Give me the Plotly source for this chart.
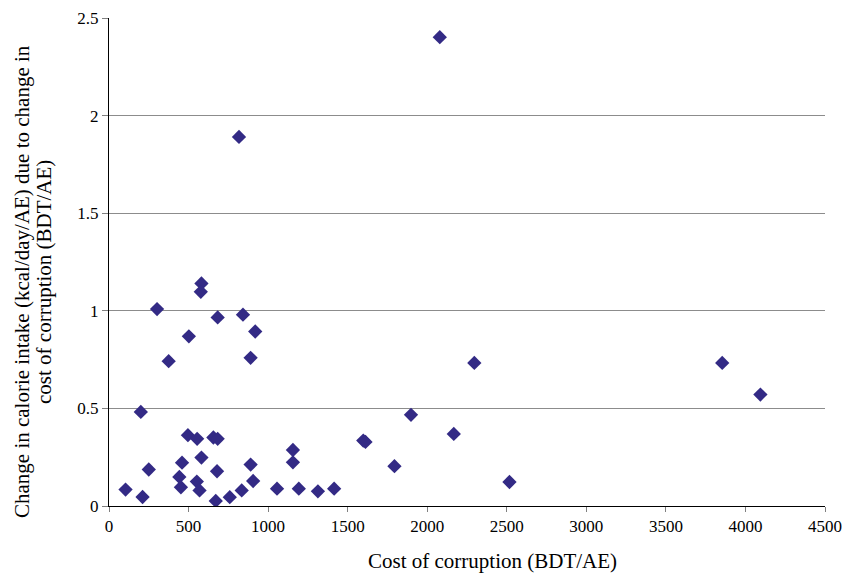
import plotly.graph_objects as go

cost = [104, 211, 250, 200, 302, 375, 502, 581, 577, 683, 842, 919, 890,
        496, 554, 656, 683, 459, 581, 442, 452, 552, 569, 679, 671, 759, 834,
        890, 906, 1056, 1156, 1156, 1193, 1313, 1415, 1598, 1612, 1794, 1898,
        2167, 2517, 817, 2079, 2296, 3854, 4094]
calorie = [0.084, 0.046, 0.187, 0.482, 1.009, 0.742, 0.869, 1.140, 1.097, 0.966,
           0.980, 0.894, 0.759, 0.363, 0.344, 0.351, 0.344, 0.222, 0.248, 0.149,
           0.096, 0.125, 0.080, 0.178, 0.026, 0.045, 0.080, 0.212, 0.128, 0.089,
           0.287, 0.224, 0.089, 0.075, 0.089, 0.335, 0.328, 0.204, 0.467, 0.369,
           0.123, 1.891, 2.402, 0.733, 0.733, 0.571]

x_ticks = [0, 500, 1000, 1500, 2000, 2500, 3000, 3500, 4000, 4500]
y_ticks = [0, 0.5, 1, 1.5, 2, 2.5]
y_title_lines = ["Change in calorie intake (kcal/day/AE) due to change in",
                 "cost of corruption (BDT/AE)"]
x_title = "Cost of corruption (BDT/AE)"

fig = go.Figure(go.Scatter(
    x=cost, y=calorie, mode="markers",
    marker=dict(symbol="diamond", size=11, color="#332a85"),
    showlegend=False,
))

font = "Liberation Serif, Times New Roman, serif"
fig.update_layout(
    width=856, height=575,
    margin=dict(l=101, r=39, t=10, b=77),
    paper_bgcolor="white", plot_bgcolor="white",
    font=dict(family=font, size=17, color="black"),
)
fig.update_xaxes(
    range=[0, 4500], tickvals=x_ticks, ticktext=[str(v) for v in x_ticks],
    showgrid=False, zeroline=False, showline=True, linecolor="black", linewidth=1,
    ticks="outside", ticklen=5, tickcolor="#808080", automargin=False,
    tickfont=dict(size=17),
)
fig.update_yaxes(
    range=[0, 2.5], tickvals=y_ticks, ticktext=["0", "0.5", "1", "1.5", "2", "2.5"],
    showgrid=True, gridcolor="#8c8c8c", gridwidth=1, zeroline=False,
    showline=True, linecolor="black", linewidth=1,
    ticks="outside", ticklen=6, tickcolor="#808080", automargin=False,
    tickfont=dict(size=17),
)

fig.add_annotation(text=x_title, xref="paper", yref="paper", x=0.5, y=0,
                   xshift=25, yshift=-55, showarrow=False, font=dict(size=21),
                   xanchor="center", yanchor="middle")
for i, line in enumerate(y_title_lines):
    fig.add_annotation(text=line, xref="paper", yref="paper", x=0, y=0.5,
                       xshift=-87 + 22 * i, yshift=-20, showarrow=False, textangle=-90,
                       font=dict(size=21), xanchor="center", yanchor="middle")

fig.write_html("out.html")
